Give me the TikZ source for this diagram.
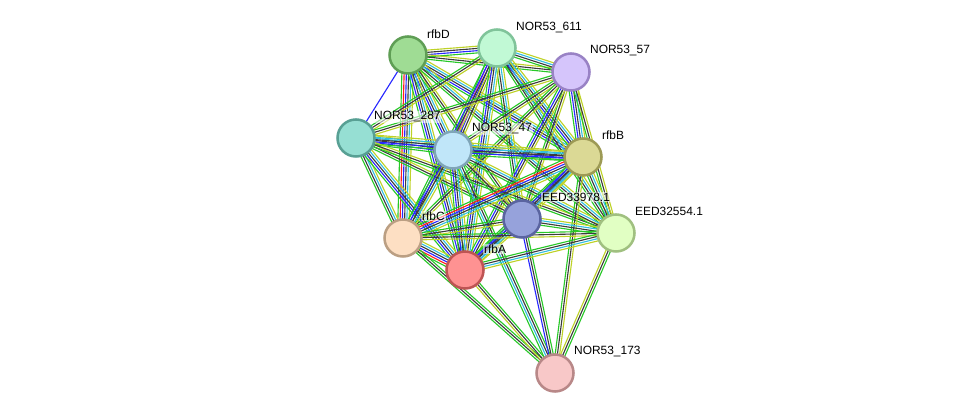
\documentclass[tikz,border=0pt]{standalone}
\usepackage{fontspec}
\setmainfont{Liberation Sans}
\usetikzlibrary{calc, backgrounds}
% evidence channels
\definecolor{ngb}{RGB}{40,200,40}   % neighborhood
\definecolor{fus}{RGB}{255,30,30}   % gene fusion
\definecolor{cooc}{RGB}{40,40,255}  % co-occurrence
\definecolor{coex}{RGB}{60,60,60}   % co-expression
\definecolor{expt}{RGB}{210,50,200} % experiments
\definecolor{dbs}{RGB}{50,190,225}  % databases
\definecolor{txt}{RGB}{190,210,40}  % textmining
\tikzset{
    protein/.style={ % Sets the properties for each protein
        circle,
        minimum size=0.925cm,
        inner sep=0pt,
        line width=1.8pt
    },
    tag/.style={ % label next to a protein
        anchor=west,
        font=\fontsize{8.5}{10}\selectfont,
        fill=white, fill opacity=0.55, text opacity=1,
        inner sep=0.6pt
    },
    link/.style={line width=0.8pt},
}
% one edge = several parallel lines, one per colour
\newcommand{\linkage}[3]{%
    \foreach \c [count=\k] in {#3} {\xdef\nlines{\k}}%
    \foreach \c [count=\k] in {#3} {%
        \pgfmathsetmacro{\off}{(\k-(\nlines+1)/2)*1.6}%
        \draw[link, \c] ($(#1)!\off pt!90:(#2)$) -- ($(#2)!\off pt!-90:(#1)$);
    }%
}

\begin{document}
\begin{tikzpicture}[x=0.025cm, y=-0.025cm]
            \useasboundingbox (0,0) rectangle (976,419);
            \node[protein, fill={rgb,255:red,159;green,220;blue,148}, draw={rgb,255:red,95;green,158;blue,85}]    (rfbD)   at (408,55)  {};
            \node[protein, fill={rgb,255:red,193;green,249;blue,213}, draw={rgb,255:red,128;green,196;blue,154}]  (n611)   at (497,48)  {};
            \node[protein, fill={rgb,255:red,213;green,197;blue,251}, draw={rgb,255:red,153;green,130;blue,197}]  (n57)    at (571,72)  {};
            \node[protein, fill={rgb,255:red,150;green,223;blue,211}, draw={rgb,255:red,88;green,160;blue,148}]   (n287)   at (356,138) {};
            \node[protein, fill={rgb,255:red,192;green,230;blue,249}, draw={rgb,255:red,127;green,165;blue,184}]  (n47)    at (453,150) {};
            \node[protein, fill={rgb,255:red,219;green,217;blue,149}, draw={rgb,255:red,157;green,154;blue,85}]   (rfbB)   at (583,157) {};
            \node[protein, fill={rgb,255:red,150;green,162;blue,219}, draw={rgb,255:red,90;green,100;blue,160}]   (e33978) at (522,219) {};
            \node[protein, fill={rgb,255:red,225;green,255;blue,195}, draw={rgb,255:red,160;green,192;blue,128}]  (e32554) at (616,233) {};
            \node[protein, fill={rgb,255:red,253;green,223;blue,195}, draw={rgb,255:red,187;green,159;blue,131}]  (rfbC)   at (403,238) {};
            \node[protein, fill={rgb,255:red,254;green,146;blue,146}, draw={rgb,255:red,190;green,84;blue,84}]    (rfbA)   at (465,270) {};
            \node[protein, fill={rgb,255:red,248;green,200;blue,200}, draw={rgb,255:red,184;green,136;blue,136}]  (n173)   at (555,373) {};

            \node[tag] (rfbD-l)   at ($(rfbD)+(18,-21)$)   {rfbD};
            \node[tag] (n611-l)   at ($(n611)+(18,-20)$)   {NOR53\_611};
            \node[tag] (n57-l)    at ($(n57)+(18,-21)$)    {NOR53\_57};
            \node[tag] (n287-l)   at ($(n287)+(17,-21)$)   {NOR53\_287};
            \node[tag] (n47-l)    at ($(n47)+(18,-21)$)    {NOR53\_47};
            \node[tag] (rfbB-l)   at ($(rfbB)+(18,-22)$)   {rfbB};
            \node[tag] (e33978-l) at ($(e33978)+(19,-22)$) {EED33978.1};
            \node[tag] (e32554-l) at ($(e32554)+(18,-22)$) {EED32554.1};
            \node[tag] (rfbC-l)   at ($(rfbC)+(18,-22)$)   {rfbC};
            \node[tag] (rfbA-l)   at ($(rfbA)+(18,-21)$)   {rfbA};
            \node[tag] (n173-l)   at ($(n173)+(18,-21)$)   {NOR53\_173};

            \begin{pgfonlayer}{background}
            % rfbD
            \linkage{rfbD}{n611}{ngb,cooc,coex,txt}
            \linkage{rfbD}{n57}{ngb,coex,txt}
            \linkage{rfbD}{n287}{cooc}
            \linkage{rfbD}{n47}{ngb,cooc,coex,dbs,txt}
            \linkage{rfbD}{rfbB}{ngb,cooc,coex,dbs,txt}
            \linkage{rfbD}{e33978}{ngb,coex,txt}
            \linkage{rfbD}{e32554}{ngb,coex,dbs,txt}
            \linkage{rfbD}{rfbC}{ngb,fus,cooc,coex,dbs,txt}
            \linkage{rfbD}{rfbA}{ngb,cooc,coex,dbs,txt}
            % NOR53_611
            \linkage{n611}{n57}{ngb,coex,dbs,txt}
            \linkage{n611}{n287}{ngb,coex,txt}
            \linkage{n611}{n47}{ngb,expt,cooc,coex,txt}
            \linkage{n611}{rfbB}{ngb,cooc,coex,dbs,txt}
            \linkage{n611}{e33978}{ngb,coex,dbs,txt}
            \linkage{n611}{e32554}{ngb,coex,dbs,txt}
            \linkage{n611}{rfbC}{ngb,cooc,coex,txt}
            \linkage{n611}{rfbA}{ngb,cooc,coex,dbs,txt}
            % NOR53_57
            \linkage{n57}{n287}{ngb,coex,txt}
            \linkage{n57}{n47}{ngb,coex,txt}
            \linkage{n57}{rfbB}{ngb,cooc,coex,dbs,txt}
            \linkage{n57}{e33978}{ngb,coex,txt}
            \linkage{n57}{e32554}{ngb,coex,txt}
            \linkage{n57}{rfbC}{ngb,coex,txt}
            \linkage{n57}{rfbA}{ngb,cooc,coex,txt}
            % NOR53_287
            \linkage{n287}{n47}{ngb,cooc,coex,dbs,txt}
            \linkage{n287}{rfbB}{ngb,cooc,coex,dbs,txt}
            \linkage{n287}{e33978}{ngb,coex,txt}
            \linkage{n287}{e32554}{ngb,coex,txt}
            \linkage{n287}{rfbC}{ngb,coex,dbs,txt}
            \linkage{n287}{rfbA}{ngb,cooc,coex,dbs,txt}
            % NOR53_47
            \linkage{n47}{rfbB}{ngb,cooc,coex,dbs,txt}
            \linkage{n47}{e33978}{ngb,coex,txt}
            \linkage{n47}{e32554}{ngb,coex,dbs,txt}
            \linkage{n47}{rfbC}{ngb,cooc,coex,dbs,txt}
            \linkage{n47}{rfbA}{ngb,cooc,coex,dbs,txt}
            \linkage{n47}{n173}{ngb,dbs,coex,ngb}
            % rfbB
            \linkage{rfbB}{e33978}{ngb,cooc,coex,dbs,txt}
            \linkage{rfbB}{e32554}{ngb,coex,dbs,txt}
            \linkage{rfbB}{rfbC}{ngb,fus,cooc,coex,dbs,txt}
            \linkage{rfbB}{rfbA}{ngb,cooc,coex,dbs,txt}
            \linkage{rfbB}{n173}{ngb,coex,txt}
            % EED33978.1
            \linkage{e33978}{e32554}{ngb,coex,dbs,txt}
            \linkage{e33978}{rfbC}{ngb,coex,txt}
            \linkage{e33978}{rfbA}{ngb,cooc,coex,dbs,txt}
            \linkage{e33978}{n173}{cooc,coex,ngb}
            % EED32554.1
            \linkage{e32554}{rfbC}{ngb,coex,txt}
            \linkage{e32554}{rfbA}{ngb,coex,dbs,txt}
            \linkage{e32554}{n173}{txt,coex,ngb}
            % rfbC, rfbA
            \linkage{rfbC}{rfbA}{ngb,fus,cooc,coex,dbs,txt}
            \linkage{rfbC}{n173}{ngb,coex,ngb}
            \linkage{rfbA}{n173}{txt,coex,ngb}
            \end{pgfonlayer}
        \end{tikzpicture}
\end{document}
